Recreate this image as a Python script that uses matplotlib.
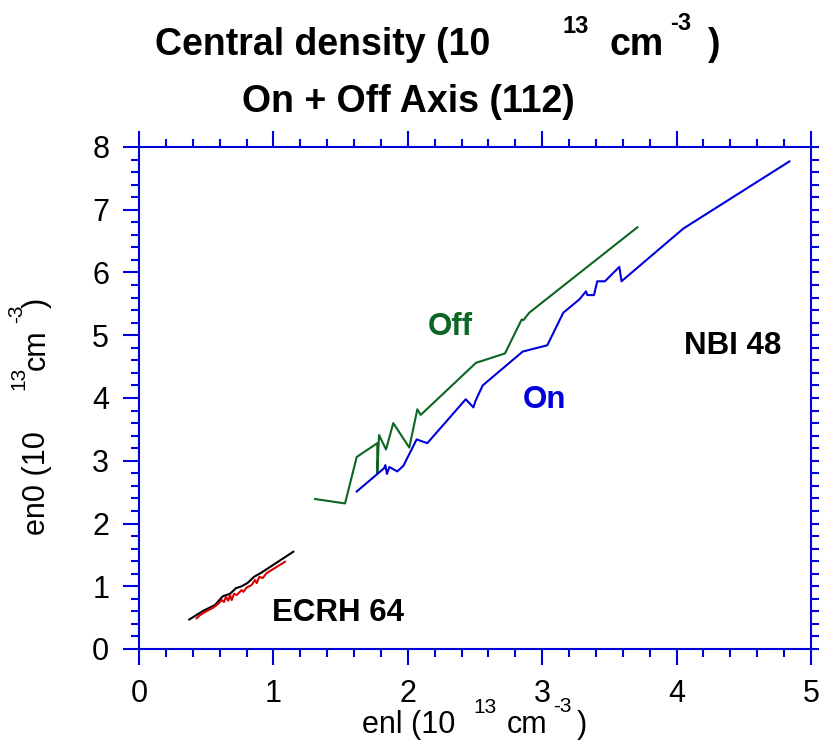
import matplotlib
matplotlib.use("Agg")
import matplotlib.pyplot as plt
from matplotlib.ticker import MultipleLocator

plt.rcParams['font.family'] = ['Liberation Sans', 'DejaVu Sans']

# ---- data ----
off_x = [1.31, 1.533, 1.62, 1.773, 1.773, 1.786, 1.838, 1.892, 2.011, 2.071, 2.096,
         2.507, 2.723, 2.847, 2.86, 2.904, 3.708]
off_y = [2.39, 2.32, 3.06, 3.28, 2.79, 3.41, 3.18, 3.60, 3.21, 3.82, 3.73,
         4.56, 4.71, 5.25, 5.24, 5.36, 6.72]

on_x = [1.62, 1.823, 1.833, 1.845, 1.863, 1.922, 1.967, 2.066, 2.145, 2.431, 2.488,
        2.503, 2.557, 2.855, 3.038, 3.157, 3.276, 3.326, 3.336, 3.385, 3.41, 3.467,
        3.574, 3.59, 4.05, 4.839]
on_y = [2.51, 2.88, 2.93, 2.79, 2.90, 2.83, 2.92, 3.34, 3.28, 3.98, 3.85,
        3.95, 4.20, 4.74, 4.84, 5.36, 5.57, 5.70, 5.64, 5.64, 5.86, 5.86,
        6.09, 5.86, 6.70, 7.77]

ecrh_black_x = [0.374, 0.479, 0.565, 0.623, 0.677, 0.722, 0.764, 0.806, 0.856, 0.913, 1.148]
ecrh_black_y = [0.47, 0.61, 0.70, 0.84, 0.88, 0.97, 1.00, 1.05, 1.15, 1.22, 1.55]

ecrh_red_x = [0.429, 0.454, 0.491, 0.553, 0.590, 0.615, 0.632, 0.647, 0.665, 0.677, 0.690,
              0.707, 0.727, 0.764, 0.776, 0.801, 0.838, 0.863, 0.876, 0.895, 0.920, 0.950, 1.086]
ecrh_red_y = [0.49, 0.54, 0.59, 0.66, 0.72, 0.78, 0.75, 0.83, 0.77, 0.86, 0.78,
              0.88, 0.86, 0.94, 0.91, 0.98, 1.02, 1.10, 1.05, 1.15, 1.13, 1.21, 1.39]

x_ticks = [0, 1, 2, 3, 4, 5]
y_ticks = [0, 1, 2, 3, 4, 5, 6, 7, 8]

W, H = 820, 749
fig = plt.figure(figsize=(W / 100, H / 100), dpi=100)
ax = fig.add_axes([139 / W, 1 - 649 / H, (811 - 139) / W, (649 - 147) / H])

BLUE = '#0000dd'
GREEN = '#0b6623'
RED = '#dd0000'

ax.plot(off_x, off_y, color=GREEN, lw=1.5)
ax.plot(on_x, on_y, color=BLUE, lw=1.5)
ax.plot(ecrh_black_x, ecrh_black_y, color='black', lw=1.5)
ax.plot(ecrh_red_x, ecrh_red_y, color=RED, lw=1.5)

ax.set_xlim(0, 5)
ax.set_ylim(0, 8)
ax.set_xticks(x_ticks)
ax.set_yticks(y_ticks)
ax.xaxis.set_minor_locator(MultipleLocator(0.2))
ax.yaxis.set_minor_locator(MultipleLocator(0.2))

for s in ax.spines.values():
    s.set_color(BLUE)
    s.set_linewidth(1.5)
ax.tick_params(which='both', direction='out', color=BLUE, width=1.5,
               top=True, right=True, labelsize=22, labelcolor='black')
ax.tick_params(which='major', length=11.5, pad=10)
ax.tick_params(which='minor', length=5.8)

bold = dict(fontsize=22.5, fontweight='bold')
ax.text(2.314, 5.13, 'Off', color=GREEN, ha='center', va='center', **bold)
ax.text(3.02, 3.97, 'On', color=BLUE, ha='center', va='center', **bold)
ax.text(4.42, 4.83, 'NBI 48', color='black', ha='center', va='center', **bold)
ax.text(1.48, 0.574, 'ECRH 64', color='black', ha='center', va='center', **bold)


def ftext(px, py, s, **kw):
    fig.text(px / W, 1 - py / H, s, **kw)


# title
tb = dict(fontweight='bold', ha='left', va='baseline')
ftext(155, 55, 'Central density (10', fontsize=27, **tb)
ftext(562, 33, '13', fontsize=17, **tb)
ftext(610, 55, 'cm', fontsize=27, **tb)
ftext(670, 30, '-3', fontsize=17, **tb)
ftext(707, 55, ')', fontsize=27, **tb)
fig.text(408 / W, 1 - 112 / H, 'On + Off Axis (112)', fontsize=27, fontweight='bold',
         ha='center', va='baseline')

# x label
xl = dict(ha='left', va='baseline')
ftext(362, 733, 'enl (10', fontsize=22, **xl)
ftext(473, 713, '13', fontsize=15, **xl)
ftext(507, 733, 'cm', fontsize=22, **xl)
ftext(553, 712, '-3', fontsize=15, **xl)
ftext(577, 733, ')', fontsize=22, **xl)

# y label (rotated)
yl = dict(ha='left', va='baseline', rotation=90, rotation_mode='anchor')
ftext(45, 535, 'en0 (10', fontsize=22, **yl)
ftext(24, 390, '13', fontsize=15, **yl)
ftext(45, 370, 'cm', fontsize=22, **yl)
ftext(22, 323, '-3', fontsize=15, **yl)
ftext(45, 308, ')', fontsize=22, **yl)

fig.savefig('out.png', dpi=100)
